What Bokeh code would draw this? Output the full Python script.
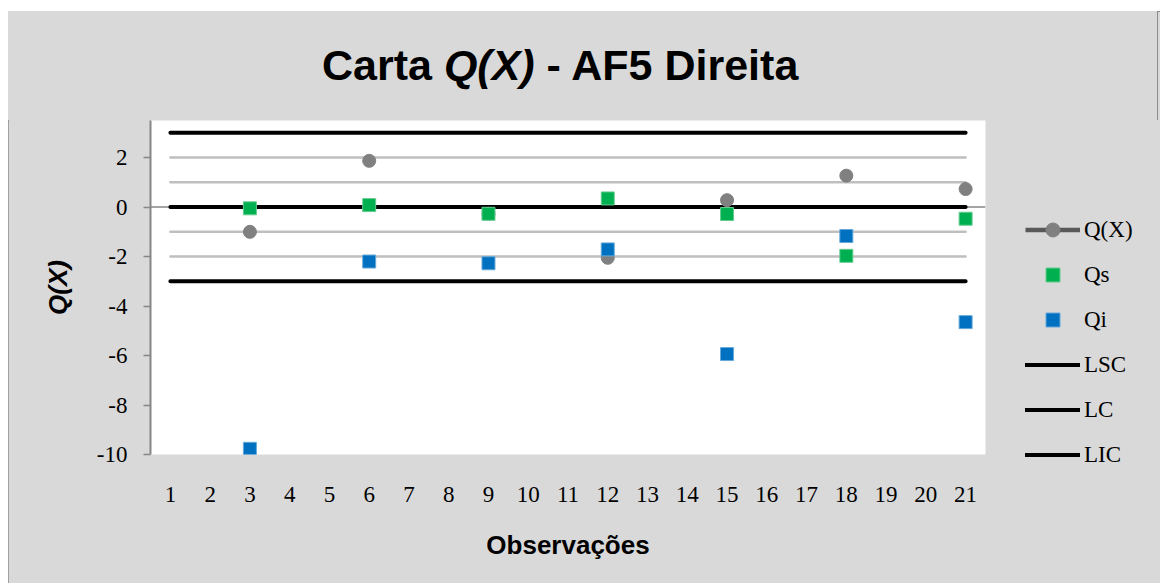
from bokeh.plotting import figure
from bokeh.models import (Range1d, FixedTicker, Legend, LegendItem, Span, ColumnDataSource,
                          Spacer, CustomJSTickFormatter, Div)
from bokeh.layouts import column, row
from bokeh.embed import file_html
from bokeh.resources import INLINE
import numpy as np

# ---- data ----
obs = list(range(1, 22))
qx = [None, None, -1.00, None, None, 1.87, None, None, -0.27, None, None, -2.05,
      None, None, 0.28, None, None, 1.27, None, None, 0.73]
qs = [None, None, -0.05, None, None, 0.08, None, None, -0.27, None, None, 0.35,
      None, None, -0.28, None, None, -1.97, None, None, -0.47]
qi = [None, None, -9.77, None, None, -2.20, None, None, -2.27, None, None, -1.71,
      None, None, -5.94, None, None, -1.17, None, None, -4.65]
lsc = [3] * 21
lc = [0] * 21
lic = [-3] * 21
plus2 = [2] * 21
plus1 = [1] * 21
minus1 = [-1] * 21
minus2 = [-2] * 21
y_ticks = [-10, -8, -6, -4, -2, 0, 2]

BG = "#D9D9D9"


def arr(lst):
    return np.array([np.nan if v is None else v for v in lst], dtype=float)


src = ColumnDataSource(dict(x=obs, qx=arr(qx), qs=arr(qs), qi=arr(qi),
                            lsc=lsc, lc=lc, lic=lic,
                            p2=plus2, p1=plus1, m1=minus1, m2=minus2))

# ---- title strip ----
title_html = ('<div style="font-family:\'Liberation Sans\';font-weight:bold;font-size:43px;'
              'line-height:49px;padding:30px 0 0 314px;color:black;white-space:nowrap;margin:0;">'
              'Carta <i>Q(X)</i> - AF5 Direita</div>')
t = Div(text=title_html, width=1150, height=109, margin=0,
        styles={"background-color": BG, "margin": "0", "padding": "0",
                "box-shadow": "inset -1px 0 0 #8C8C8C"})

# ---- main chart ----
p = figure(frame_width=835, frame_height=334, x_range=Range1d(0.5, 21.5), y_range=Range1d(-10, 3.5),
           output_backend="svg", toolbar_location=None,
           min_border_left=142, min_border_right=173, min_border_top=0, min_border_bottom=129,
           border_fill_color=BG, background_fill_color="white", outline_line_color=None)
p.grid.visible = False

xa = p.xaxis[0]
xa.ticker = FixedTicker(ticks=obs)
xa.axis_line_color = None
xa.major_tick_line_color = None
xa.minor_tick_line_color = None
xa.major_label_text_font = "Liberation Serif"
xa.major_label_text_font_size = "23px"
xa.major_label_text_color = "black"
xa.major_label_standoff = 26
xa.axis_label = "Observações"
xa.axis_label_text_font = "Liberation Sans"
xa.axis_label_text_font_style = "bold"
xa.axis_label_text_font_size = "26px"
xa.axis_label_text_color = "black"
xa.axis_label_standoff = 25

ya = p.yaxis[0]
ya.ticker = FixedTicker(ticks=y_ticks)
ya.formatter = CustomJSTickFormatter(code="return tick.toString();")
ya.axis_line_color = "#868686"
ya.axis_line_width = 2
ya.major_tick_line_color = "#868686"
ya.major_tick_line_width = 1.5
ya.major_tick_in = 0
ya.major_tick_out = 7
ya.minor_tick_line_color = None
ya.major_label_text_font = "Liberation Serif"
ya.major_label_text_font_size = "23px"
ya.major_label_text_color = "black"
ya.major_label_standoff = 16
ya.axis_label = "Q(X)"
ya.axis_label_text_font = "Liberation Sans"
ya.axis_label_text_font_style = "bold italic"
ya.axis_label_text_font_size = "26px"
ya.axis_label_text_color = "black"
ya.axis_label_standoff = 21

# category axis crossing at zero
p.add_layout(Span(location=0, dimension="width", line_color="#868686", line_width=1.5, level="underlay"))

# sigma lines (no legend)
for col in ["p2", "p1", "m1", "m2"]:
    p.line("x", col, source=src, line_color="#BFBFBF", line_width=2.5, line_cap="round")

r_lsc = p.line("x", "lsc", source=src, line_color="black", line_width=4, line_cap="round")
r_lc = p.line("x", "lc", source=src, line_color="black", line_width=4, line_cap="round")
r_lic = p.line("x", "lic", source=src, line_color="black", line_width=4, line_cap="round")

r_qx_line = p.line("x", "qx", source=src, line_color="#595959", line_width=4.5)
r_qx = p.scatter("x", "qx", source=src, marker="circle", size=13,
                 fill_color="#808080", line_color="#808080")
r_qs = p.scatter("x", "qs", source=src, marker="square", size=13,
                 fill_color="#00B050", line_color="#66CC90", line_width=1)
r_qi = p.scatter("x", "qi", source=src, marker="square", size=13,
                 fill_color="#0070C0", line_color="#66A8D8", line_width=1)

legend = Legend(items=[
    LegendItem(label="Q(X)", renderers=[r_qx_line, r_qx]),
    LegendItem(label="Qs", renderers=[r_qs]),
    LegendItem(label="Qi", renderers=[r_qi]),
    LegendItem(label="LSC", renderers=[r_lsc]),
    LegendItem(label="LC", renderers=[r_lc]),
    LegendItem(label="LIC", renderers=[r_lic]),
], location=(40, -18), padding=0, margin=0, spacing=10,
    glyph_width=55, glyph_height=35, label_height=35, label_standoff=4,
    label_text_font="Liberation Serif", label_text_font_size="23px", label_text_color="black",
    border_line_color=None, background_fill_alpha=0)
p.add_layout(legend, "right")

inner = column(t, p, styles={"background-color": BG, "outline": "1px solid #8C8C8C",
                             "outline-offset": "-1px"})
layout = column(Spacer(height=11), row(Spacer(width=8), inner))
open("out.html", "w").write(file_html(layout, INLINE))
